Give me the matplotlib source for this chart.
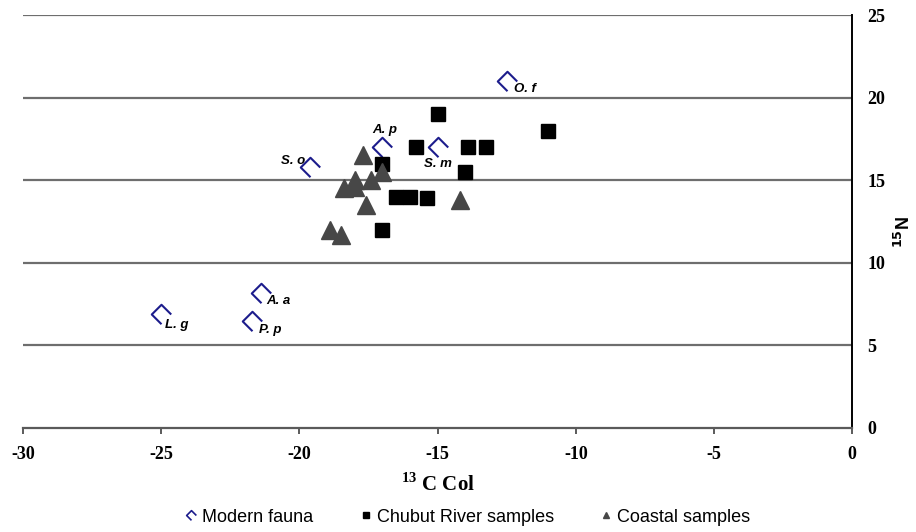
import matplotlib
matplotlib.use('Agg')
import matplotlib.pyplot as plt
from matplotlib.path import Path
from matplotlib.lines import Line2D

plt.rcParams['axes.unicode_minus'] = False
plt.rcParams['mathtext.fontset'] = 'custom'
plt.rcParams['mathtext.rm'] = 'Liberation Serif'
plt.rcParams['mathtext.bf'] = 'Liberation Serif:bold'

# Modern fauna (d13C, d15N) with labels
fauna_names = ['O. f', 'A. p', 'S. m', 'S. o', 'A. a', 'P. p', 'L. g']
fauna_x = [-12.5, -17.0, -15.0, -19.6, -21.4, -21.7, -25.0]
fauna_y = [21.0, 17.0, 17.0, 15.8, 8.2, 6.5, 6.9]

# Chubut River samples
river_x = [-15.0, -11.0, -15.8, -13.9, -13.25, -17.0, -14.0, -16.5, -16.0, -15.4, -17.0]
river_y = [19.0, 18.0, 17.0, 17.0, 17.0, 16.0, 15.5, 14.0, 14.0, 13.9, 12.0]

# Coastal samples
coast_x = [-17.7, -17.0, -17.4, -18.0, -18.4, -18.0, -17.6, -18.9, -18.5, -14.2]
coast_y = [16.5, 15.5, 15.0, 15.0, 14.5, 14.6, 13.5, 12.0, 11.7, 13.8]

# label offsets in points (dx, dy, ha)
label_pos = {
    'O. f': (5, -6, 'left'),
    'A. p': (2, 12, 'center'),
    'S. m': (0, -12, 'center'),
    'S. o': (-4, 4, 'right'),
    'A. a': (4, -6, 'left'),
    'P. p': (5, -7, 'left'),
    'L. g': (3, -8, 'left'),
}

# open diamond marker (bottom-right side missing)
bracket = Path([(0.5, 0.0), (0.0, 0.5), (-0.5, 0.0), (0.0, -0.5)],
               [Path.MOVETO, Path.LINETO, Path.LINETO, Path.LINETO])

fig = plt.figure(figsize=(9.16, 5.32), dpi=100)
ax = fig.add_axes([0.0251, 0.1955, 0.9053, 0.7763])

for v in [5, 10, 15, 20, 25]:
    ax.axhline(v, color='#6e6e6e', lw=1.6, zorder=1)

ax.plot(fauna_x, fauna_y, ls='none', marker=bracket, ms=14, mfc='none',
        mec='#1c1c8c', mew=1.5, zorder=3)
ax.plot(river_x, river_y, ls='none', marker='s', ms=9.5, color='black', zorder=3)
ax.plot(coast_x, coast_y, ls='none', marker='^', ms=12.5, color='#474747', zorder=3)

for name, x, y in zip(fauna_names, fauna_x, fauna_y):
    dx, dy, ha = label_pos[name]
    ax.annotate(name, (x, y), xytext=(dx, dy), textcoords='offset points',
                ha=ha, va='center', fontsize=9.5, fontweight='bold',
                fontstyle='italic', family='Liberation Sans', zorder=4)

ax.set_xlim(-30, 0)
ax.set_ylim(0, 25)
ax.set_xticks(range(-30, 1, 5))
ax.set_yticks(range(0, 26, 5))

ax.spines['top'].set_visible(False)
ax.spines['left'].set_visible(False)
ax.spines['right'].set_linewidth(1.4)
ax.spines['bottom'].set_linewidth(1.6)
ax.spines['bottom'].set_color('#5a5a5a')

ax.yaxis.tick_right()
ax.tick_params(axis='y', length=0, pad=11)
ax.tick_params(axis='x', length=4, width=1.4, color='#5a5a5a', pad=9, direction='out')
for lab in ax.get_xticklabels() + ax.get_yticklabels():
    lab.set_family('Liberation Serif')
    lab.set_fontsize(13)
    lab.set_fontweight('bold')

fig.text(438 / 916, 1 - 485 / 532, r'$^{\mathbf{13}}$ C Col', family='Liberation Serif',
         fontsize=15, fontweight='bold', ha='center', va='center')
fig.text(904 / 916, 1 - 232 / 532, r'$^{\mathbf{15}}$N', family='Liberation Sans',
         fontsize=13, fontweight='bold', rotation=90, ha='center', va='center',
         math_fontfamily='dejavusans')

handles = [
    Line2D([], [], ls='none', marker=bracket, ms=7, mfc='none', mec='#1c1c8c', mew=1.2),
    Line2D([], [], ls='none', marker='s', ms=5, color='black'),
    Line2D([], [], ls='none', marker='^', ms=5, color='#474747'),
]
fig.legend(handles, ['Modern fauna', 'Chubut River samples', 'Coastal samples'],
           loc='center', bbox_to_anchor=(468 / 916, 0.028), ncol=3, frameon=False,
           prop={'family': 'Liberation Sans', 'size': 13}, handlelength=0.6,
           handletextpad=0.3, columnspacing=2.6)

fig.savefig('out.png', dpi=100)
